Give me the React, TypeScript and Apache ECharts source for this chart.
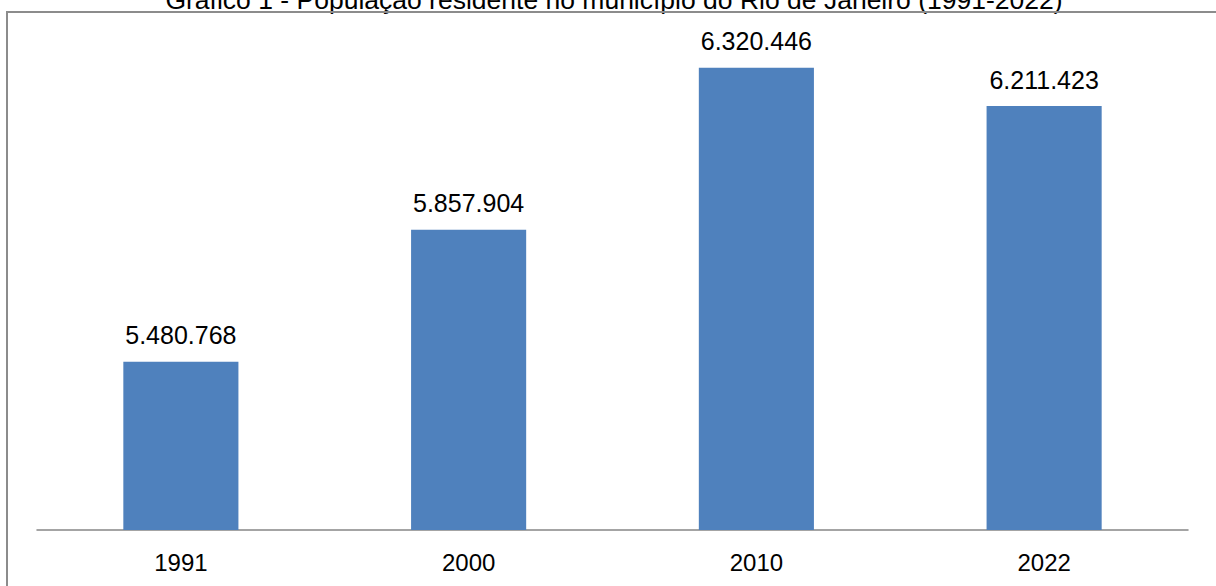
import React, { useEffect, useRef } from "react";
import * as echarts from "echarts";

const categories = ["1991", "2000", "2010", "2022"];
const populacao = [5480768, 5857904, 6320446, 6211423];
const titulo = "Gráfico 1 - População residente no município do Rio de Janeiro (1991-2022)";

const fmt = (v: number) => v.toString().replace(/\B(?=(\d{3})+(?!\d))/g, ".");

export default function App() {
  const ref = useRef<HTMLDivElement>(null);
  useEffect(() => {
    if (!ref.current) return;
    const chart = echarts.init(ref.current, null, { renderer: "svg" });
    chart.setOption({
      animation: false,
      textStyle: { fontFamily: "Liberation Sans, Arial, sans-serif" },
      graphic: [
        {
          type: "text",
          x: 614,
          y: 13,
          style: {
            text: titulo,
            fontSize: 26.5,
            fontFamily: "Liberation Sans, Arial, sans-serif",
            fill: "#000",
            textAlign: "center",
            textVerticalAlign: "bottom",
          },
        },
        {
          type: "rect",
          shape: { x: 7, y: 12, width: 1300, height: 700 },
          style: { fill: "none", stroke: "#8c8c8c", lineWidth: 2 },
          silent: true,
        },
      ],
      grid: { left: 37, right: 28, top: 40, bottom: 56 },
      xAxis: {
        type: "category",
        data: categories,
        axisTick: { show: false },
        axisLine: { lineStyle: { color: "#868686", width: 1.5 } },
        axisLabel: { color: "#000", fontSize: 24, margin: 20 },
      },
      yAxis: {
        type: "value",
        min: 5000000,
        max: 6400000,
        show: false,
        splitLine: { show: false },
      },
      series: [
        {
          type: "bar",
          data: populacao,
          barWidth: "40%",
          itemStyle: { color: "#4F81BD" },
          label: {
            show: true,
            position: "top",
            distance: 14,
            color: "#000",
            fontSize: 25,
            formatter: (p: any) => fmt(p.value),
          },
        },
      ],
    });
    return () => chart.dispose();
  }, []);
  return (
    <div
      ref={ref}
      style={{ position: "absolute", left: 0, top: 0, width: 1216, height: 586, background: "#fff" }}
    />
  );
}
